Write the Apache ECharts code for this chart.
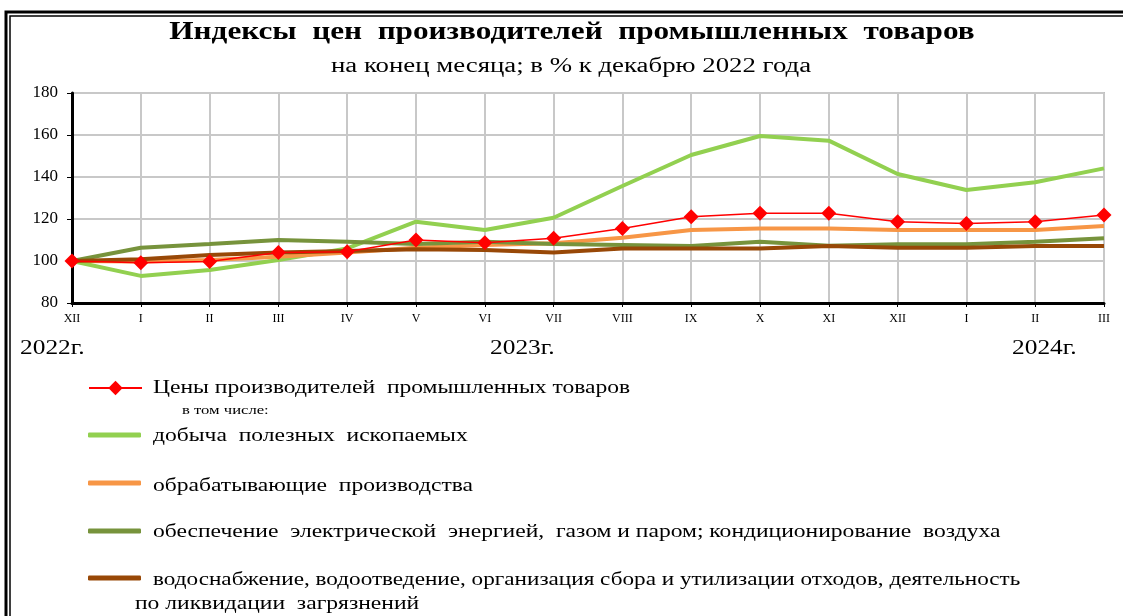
<!DOCTYPE html>
<html><head><meta charset="utf-8">
<script src="https://cdn.jsdelivr.net/npm/echarts@6/dist/echarts.min.js"></script>
<style>html,body{margin:0;padding:0;background:#fff}#c{width:1123px;height:616px}</style>
</head><body><div id="c"></div>
<script>
const categories = ['XII','I','II','III','IV','V','VI','VII','VIII','IX','X','XI','XII','I','II','III'];
const yTicks = [80,100,120,140,160,180];
const yearLabels = ['2022г.','2023г.','2024г.'];
const ppi      = [100, 99.2, 99.8, 104, 104.4, 110, 108.7, 110.8, 115.5, 121.1, 122.7, 122.7, 118.7, 117.9, 118.7, 121.9];
const mining   = [100, 92.9, 95.7, 100.5, 106, 118.7, 114.8, 120.6, 135.7, 150.5, 159.5, 157.3, 141.4, 133.8, 137.5, 144.1];
const manuf    = [100, 99.8, 100.5, 102, 104, 106.3, 107.6, 108.4, 111.1, 114.8, 115.5, 115.5, 114.8, 114.8, 114.8, 116.7];
const energy   = [100, 106.3, 108.1, 110, 109.2, 108.1, 109.2, 108.1, 107.6, 107.1, 109.2, 107.3, 108, 108, 109.2, 110.8];
const water    = [100, 100.8, 102.9, 104, 104.8, 105.6, 105.2, 104.1, 106, 106, 106, 107.1, 106.3, 106.3, 107.1, 107.1];
const names = [
  'Цены производителей промышленных товаров',
  'добыча полезных ископаемых',
  'обрабатывающие производства',
  'обеспечение электрической энергией, газом и паром; кондиционирование воздуха',
  'водоснабжение, водоотведение, организация сбора и утилизации отходов, деятельность по ликвидации загрязнений'
];
const legendLines = [
  'Цены производителей  промышленных товаров',
  'добыча  полезных  ископаемых',
  'обрабатывающие  производства',
  'обеспечение  электрической  энергией,  газом и паром; кондиционирование  воздуха',
  'водоснабжение, водоотведение, организация сбора и утилизации отходов, деятельность'
];
const legendLine2 = 'по ликвидации  загрязнений';
const subLabel = 'в том числе:';
const titleText = 'Индексы  цен  производителей  промышленных  товаров';
const subtitleText = 'на конец месяца; в % к декабрю 2022 года';
const colors = ['#ff0000','#92d050','#f79646','#77933c','#984807'];
const F = '"Liberation Serif","Times New Roman",serif';

const chart = echarts.init(document.getElementById('c'), null, {renderer:'canvas'});
const iconY = [388, 435, 483, 531, 578];
const textY = [388, 436, 486, 532, 580];
const legends = names.map((n,i)=>{
  const h = i===0 ? 18 : 5;
  return {
    data:[ i===0 ? {name:n} : {name:n, icon:'roundRect'} ],
    left:88, top:iconY[i]-h/2, itemWidth:53, itemHeight:h, itemGap:0, padding:0,
    formatter:()=>'', textStyle:{fontSize:1, padding:0},
    selectedMode:false
  };
});
const txt = (text, x, y, size, sx)=>({
  type:'text', x, y, scaleX:sx, silent:true,
  style:{text, font:size+'px '+F, fill:'#000', verticalAlign:'middle', align:'left'}
});
const mk = (i, data, extra)=>Object.assign({
  name:names[i], type:'line', data, smooth:false,
  symbol:'none', lineStyle:{color:colors[i], width:4}, itemStyle:{color:colors[i]},
  emphasis:{disabled:true}, animation:false, z:2+i
}, extra||{});
const graphics = [
  {type:'rect', shape:{x:6, y:12, width:1200, height:700}, style:{fill:'none', stroke:'#000', lineWidth:3}, silent:true},
  {type:'rect', shape:{x:10, y:16, width:1200, height:700}, style:{fill:'none', stroke:'#000', lineWidth:1.5}, silent:true},
  {type:'text', x:572, y:32, scaleX:1.2, silent:true,
   style:{text:titleText, font:'bold 26px '+F, fill:'#000', verticalAlign:'middle', align:'center'}},
  {type:'text', x:571, y:67, scaleX:1.34, silent:true,
   style:{text:subtitleText, font:'20px '+F, fill:'#000', verticalAlign:'middle', align:'center'}},
  txt(yearLabels[0], 20, 349, 20, 1.27),
  txt(yearLabels[1], 490, 349, 20, 1.27),
  txt(yearLabels[2], 1012, 349, 20, 1.27),
  txt(subLabel, 182, 411, 13, 1.28),
  txt(legendLine2, 135, 604, 19, 1.24)
];
legendLines.forEach((t,i)=>graphics.push(txt(t, 153, textY[i], 19, i===4 ? 1.22 : 1.24)));

chart.setOption({
  animation:false,
  legend: legends,
  grid:{left:72, top:93, width:1032, height:210, containLabel:false, show:true, borderColor:'#8c8c8c', borderWidth:1.5, backgroundColor:'transparent'},
  xAxis:{type:'category', data:categories, boundaryGap:false,
    axisLine:{lineStyle:{color:'#000', width:3}, onZero:false},
    axisTick:{show:true, length:4, lineStyle:{color:'#000'}},
    splitLine:{show:true, lineStyle:{color:'#c8c8c8', width:2}},
    axisLabel:{fontFamily:F, fontSize:12, color:'#000', margin:10}},
  yAxis:{type:'value', min:80, max:180, interval:20,
    axisLine:{show:true, lineStyle:{color:'#000', width:3}},
    axisTick:{show:true, length:5, lineStyle:{color:'#000'}},
    splitLine:{show:true, lineStyle:{color:'#c8c8c8', width:2}},
    axisLabel:{fontFamily:F, fontSize:17, color:'#000', margin:14,
      formatter:v=>yTicks.includes(v)?String(v):''}},
  graphic: graphics,
  series:[
    mk(1, mining),
    mk(2, manuf),
    mk(3, energy),
    mk(4, water),
    mk(0, ppi, {symbol:'diamond', symbolSize:15, lineStyle:{color:colors[0], width:1.5}, z:10})
  ]
});
</script></body></html>
